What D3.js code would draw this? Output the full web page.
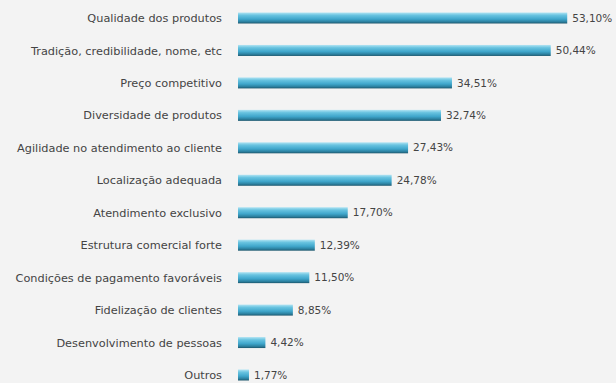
<!DOCTYPE html>
<html>
<head>
<meta charset="utf-8">
<script src="https://cdn.jsdelivr.net/npm/d3@7"></script>
<style>
  html, body { margin: 0; padding: 0; background: #f3f3f3; }
  svg { display: block; }
</style>
</head>
<body>
<svg id="chart" width="616" height="383"></svg>
<script>
// Factors cited as competitive advantages (share of respondents, %)
const categories = [
  "Qualidade dos produtos",
  "Tradição, credibilidade, nome, etc",
  "Preço competitivo",
  "Diversidade de produtos",
  "Agilidade no atendimento ao cliente",
  "Localização adequada",
  "Atendimento exclusivo",
  "Estrutura comercial forte",
  "Condições de pagamento favoráveis",
  "Fidelização de clientes",
  "Desenvolvimento de pessoas",
  "Outros"
];
const values = [53.10, 50.44, 34.51, 32.74, 27.43, 24.78, 17.70, 12.39, 11.50, 8.85, 4.42, 1.77];
const valueLabels = ["53,10%", "50,44%", "34,51%", "32,74%", "27,43%", "24,78%", "17,70%", "12,39%", "11,50%", "8,85%", "4,42%", "1,77%"];

const svg = d3.select("#chart");
const W = 616, H = 383;
const font = "'DejaVu Sans', Verdana, sans-serif";

svg.append("rect").attr("width", W).attr("height", H).attr("fill", "#f3f3f3");

const defs = svg.append("defs");
const grad = defs.append("linearGradient")
  .attr("id", "barGrad").attr("x1", 0).attr("y1", 0).attr("x2", 0).attr("y2", 1);
grad.append("stop").attr("offset", "0%").attr("stop-color", "#b2e4f3");
grad.append("stop").attr("offset", "25%").attr("stop-color", "#68c3e0");
grad.append("stop").attr("offset", "60%").attr("stop-color", "#3fa6cb");
grad.append("stop").attr("offset", "85%").attr("stop-color", "#2b7f9e");
grad.append("stop").attr("offset", "100%").attr("stop-color", "#1c566c");

const x = d3.scaleLinear().domain([0, 60]).range([238, 238 + 6.2 * 60]);
const y = d3.scalePoint().domain(categories).range([18, 375]);
const barH = 11;

const rows = categories.map((c, i) => ({ c, v: values[i], label: valueLabels[i] }));

// Category axis on the left, without line or ticks
const yAxis = d3.axisLeft(y).tickSize(0).tickPadding(0);
const ga = svg.append("g").attr("transform", "translate(222,0)").call(yAxis);
ga.select(".domain").remove();
ga.selectAll("text")
  .attr("fill", "#444")
  .style("font-family", font)
  .style("font-size", "11.3px");

svg.append("g").selectAll("rect")
  .data(rows).join("rect")
  .attr("x", x(0))
  .attr("y", d => y(d.c) - barH / 2)
  .attr("width", d => x(d.v) - x(0))
  .attr("height", barH)
  .attr("fill", "url(#barGrad)");

svg.append("g").selectAll("text")
  .data(rows).join("text")
  .attr("x", d => x(d.v) + 5)
  .attr("y", d => y(d.c))
  .attr("dy", "0.35em")
  .attr("fill", "#444")
  .style("font-family", font)
  .style("font-size", "10.5px")
  .text(d => d.label);
</script>
</body>
</html>
